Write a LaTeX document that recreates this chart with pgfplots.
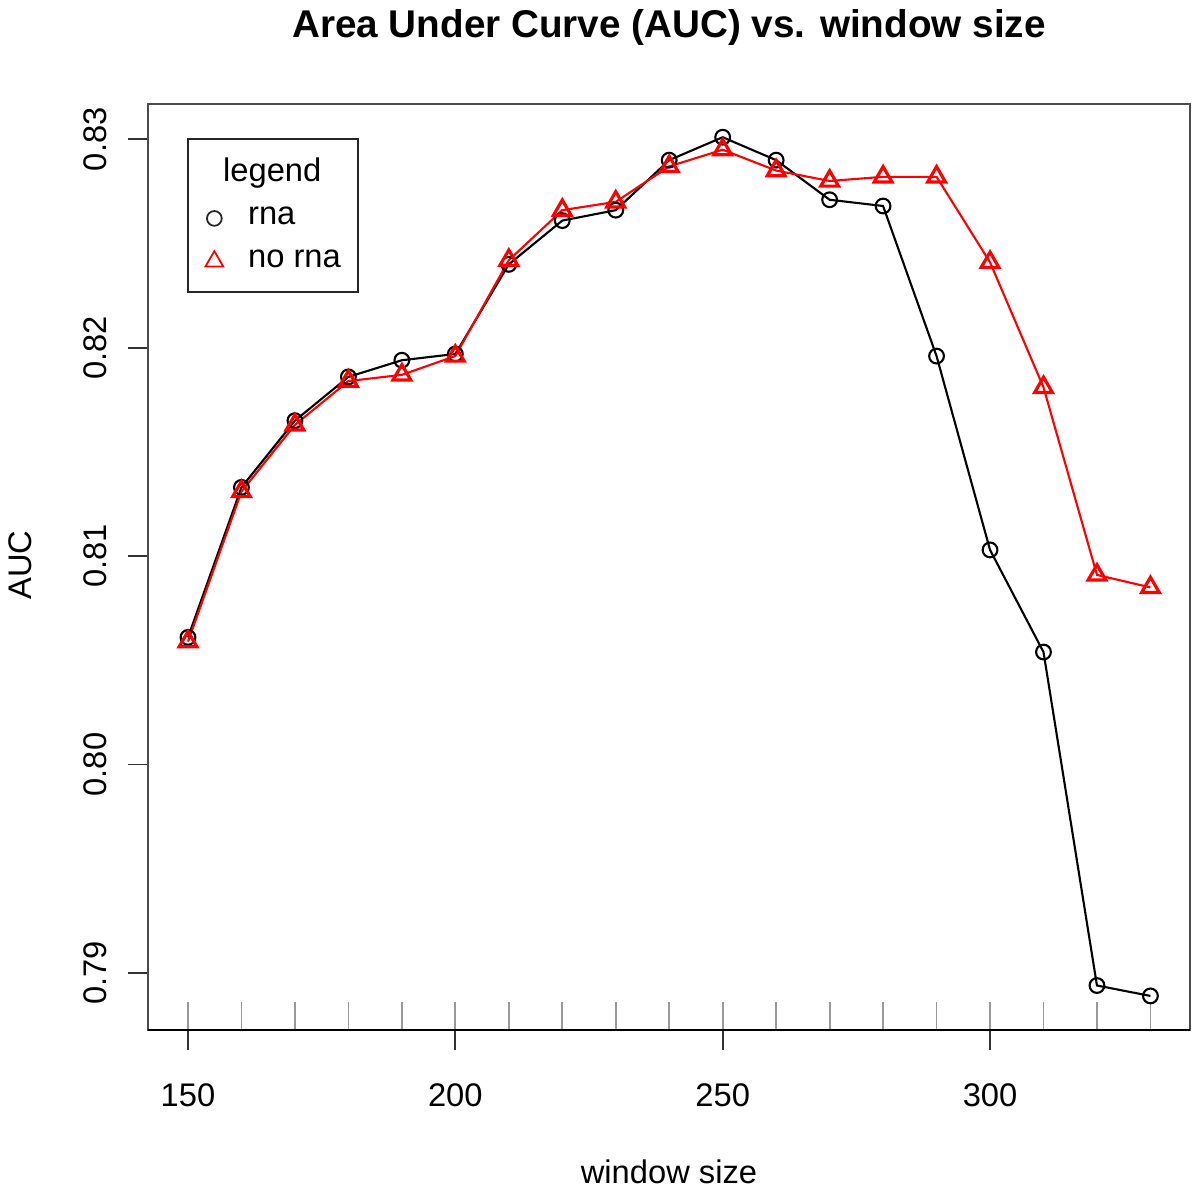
\documentclass[border=0pt]{standalone}
\usepackage{fontspec}
\setmainfont{Liberation Sans}
\usepackage{pgfplots}
\usepackage{pgfplotstable}
\pgfplotsset{compat=1.18}

\pgfplotstableread{
x    rna     norna
150  0.8061  0.8059
160  0.8133  0.8131
170  0.8165  0.8163
180  0.8186  0.8184
190  0.8194  0.8187
200  0.8197  0.8196
210  0.8240  0.8242
220  0.8261  0.8266
230  0.8266  0.8270
240  0.8290  0.8287
250  0.8301  0.8295
260  0.8290  0.8285
270  0.8271  0.8280
280  0.8268  0.8282
290  0.8196  0.8282
300  0.8103  0.8241
310  0.8054  0.8181
320  0.7894  0.8091
330  0.7889  0.8085
}\auctable

\pgfplotsset{
  markleg/.style={legend image code/.code={\draw[##1] plot coordinates {(0mm,0mm)};}},
}

\newcommand{\basefont}{\fontsize{9.3}{11}\selectfont}

\begin{document}
\begin{tikzpicture}
\useasboundingbox (0,0) rectangle (120mm,119.4mm);
\begin{axis}[
  at={(14.8mm,16.4mm)}, anchor=south west,
  scale only axis, width=104.2mm, height=92.6mm,
  xmin=142.52, xmax=337.4, ymin=0.787265, ymax=0.831694,
  axis line style={black!70, line width=0.7pt},
  tick pos=left,
  tick align=outside,
  major tick length=2mm,
  tick style={black!80, line width=0.5pt},
  xtick={150,200,250,300},
  xticklabels={150,200,250,300},
  ytick={0.79,0.80,0.81,0.82,0.83},
  yticklabels={0.79,0.80,0.81,0.82,0.83},
  extra x ticks={150,160,...,330},
  extra x tick labels={},
  extra x tick style={tick align=inside, major tick length=2.8mm, major tick style={black!40, line width=0.5pt}},
  ticklabel style={font=\basefont, inner sep=0pt},
  xticklabel style={anchor=north, yshift=-3.3mm},
  yticklabel shift=2mm,
  yticklabel style={rotate=90, anchor=south},
  title={Area Under Curve (AUC) vs. window size},
  every axis title shift=0pt,
  title style={at={(axis description cs:0.5,1.0821)}, anchor=center, yshift=0pt, font=\fontsize{11}{13}\selectfont\bfseries, inner sep=0pt},
  xlabel={window size},
  xlabel style={at={(axis description cs:0.5,-0.1533)}, anchor=center, font=\basefont, inner sep=0pt},
  ylabel={AUC},
  ylabel style={at={(axis description cs:-0.1228,0.502)}, anchor=center, font=\basefont, inner sep=0pt},
  legend style={at={(axis description cs:0.0374,0.9633)}, anchor=north west,
    draw=black!85, line width=0.6pt, fill=white, font=\basefont,
    inner xsep=1.75mm, inner ysep=1.9mm, row sep=2.0mm, column sep=2.5mm,
    nodes={inner sep=0pt}},
  legend cell align=left,
]
\addplot[black, line width=0.6pt, mark=o, mark size=2.1pt, mark options={line width=0.6pt}, forget plot]
  table[x=x, y=rna] {\auctable};
\addplot[red, line width=0.6pt, mark=triangle, mark size=2.9pt, mark options={line width=0.9pt}, forget plot]
  table[x=x, y=norna] {\auctable};
\addlegendimage{empty legend}
\addlegendentry{\hspace*{-2.5mm}legend}
\addlegendimage{only marks, black!85, mark=o, mark size=2.1pt, mark options={line width=0.5pt}, markleg}
\addlegendentry{rna}
\addlegendimage{only marks, red, mark=triangle, mark size=2.9pt, mark options={line width=0.5pt}, markleg}
\addlegendentry{no rna}
\draw[black, line width=0.8pt] (rel axis cs:0,0) -- (rel axis cs:1,0);
\end{axis}
\end{tikzpicture}
\end{document}
